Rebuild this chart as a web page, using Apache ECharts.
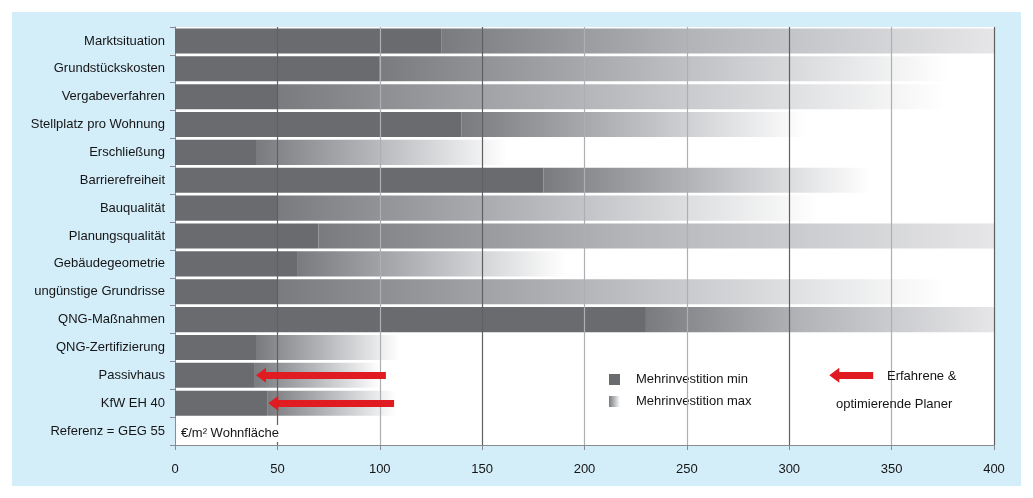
<!DOCTYPE html>
<html>
<head>
<meta charset="utf-8">
<script src="https://cdn.jsdelivr.net/npm/echarts@6/dist/echarts.min.js"></script>
<style>
  html, body { margin: 0; padding: 0; background: #ffffff; }
  #chart { position: absolute; left: 12px; top: 12px; width: 1009px; height: 474px; background: #d3edf9; }
</style>
</head>
<body>
<div id="chart"></div>
<script>
// Kategorien von oben nach unten
var categories = [
  'Marktsituation', 'Grundstückskosten', 'Vergabeverfahren', 'Stellplatz pro Wohnung',
  'Erschließung', 'Barrierefreiheit', 'Bauqualität', 'Planungsqualität',
  'Gebäudegeometrie', 'ungünstige Grundrisse', 'QNG-Maßnahmen', 'QNG-Zertifizierung',
  'Passivhaus', 'KfW EH 40', 'Referenz = GEG 55'
];
// Mehrinvestition min / max in €/m² Wohnfläche
var minValues = [130, 100, 50, 140, 40, 180, 50, 70, 60, 50, 230, 40, 39, 45, null];
var maxValues = [400, 378, 376, 308, 162, 340, 315, 400, 191, 376, 400, 110, 100, 108, null];
// Pfeile "Erfahrene & optimierende Planer": [Kategorie, von, bis]
var arrows = [
  ['Passivhaus', 103, 42],
  ['KfW EH 40', 107, 48]
];
var xTicks = [0, 50, 100, 150, 200, 250, 300, 350, 400];

var darkLines = [50, 150, 300, 400];
var font = 'Liberation Sans';
var ink = '#151515';

var chart = echarts.init(document.getElementById('chart'));

function grad(end) {
  return new echarts.graphic.LinearGradient(0, 0, 1, 0, [
    { offset: 0, color: '#7a7b7f' },
    { offset: 0.45, color: '#b2b4b8' },
    { offset: 1, color: end }
  ]);
}

var spanData = maxValues.map(function (mx, i) {
  if (mx == null) return '-';
  return {
    value: mx - minValues[i],
    itemStyle: { color: grad(mx >= 400 ? '#e6e6e8' : '#ffffff') }
  };
});

var gridLines = xTicks.slice(1).map(function (t) {
  return {
    xAxis: t,
    lineStyle: { color: darkLines.indexOf(t) >= 0 ? '#5f6064' : '#aeafb2', width: 1.2, type: 'solid' }
  };
});

var arrowLines = arrows.map(function (a) {
  return [{ coord: [a[1], a[0]] }, { coord: [a[2], a[0]] }];
});
// Legendenpfeil
arrowLines.push([{ coord: [341, 'Passivhaus'] }, { coord: [322, 'Passivhaus'] }]);

chart.setOption({
  animation: false,
  textStyle: { fontFamily: font },
  grid: {
    left: 163, right: 27, top: 15, bottom: 41,
    show: true, backgroundColor: '#ffffff', borderWidth: 0
  },
  legend: {
    orient: 'vertical',
    left: 592, top: 356,
    itemWidth: 11, itemHeight: 11, itemGap: 9,
    icon: 'rect',
    selectedMode: false,
    data: ['Mehrinvestition min', 'Mehrinvestition max'],
    textStyle: { fontFamily: font, fontSize: 13, color: ink, padding: [0, 0, 0, 11] }
  },
  xAxis: {
    type: 'value',
    min: 0, max: 400, interval: 50,
    splitLine: { show: false },
    axisLine: { show: true, lineStyle: { color: '#8a8b8e' } },
    axisTick: { show: true, length: 5, lineStyle: { color: '#8a8b8e' } },
    axisLabel: { color: ink, fontSize: 13, margin: 18, fontFamily: font }
  },
  yAxis: {
    type: 'category',
    inverse: true,
    data: categories,
    axisLine: { show: true, lineStyle: { color: '#8a8b8e' } },
    axisTick: { show: true, length: 5, lineStyle: { color: '#8a8b8e' } },
    axisLabel: { color: ink, fontSize: 13, margin: 10, fontFamily: font }
  },
  series: [
    {
      name: 'Mehrinvestition min',
      type: 'bar',
      stack: 'inv',
      barCategoryGap: '10%',
      itemStyle: { color: '#6a6b6f' },
      data: minValues.map(function (v) { return v == null ? '-' : v; }),
      markLine: {
        silent: true,
        symbol: 'none',
        label: { show: false },
        data: gridLines
      }
    },
    {
      name: 'Mehrinvestition max',
      type: 'bar',
      stack: 'inv',
      barCategoryGap: '10%',
      itemStyle: { color: grad('#ffffff') },
      data: spanData,
      markLine: {
        silent: true,
        z: 6,
        symbol: ['none', 'triangle'],
        symbolSize: [15, 10],
        label: { show: false },
        lineStyle: { color: '#e01b22', width: 7, type: 'solid' },
        data: arrowLines
      }
    }
  ],
  graphic: [
    { type: 'text', z: 100, left: 875, top: 358, style: { text: 'Erfahrene &', font: '13px "' + font + '"', fill: ink } },
    { type: 'text', z: 100, left: 824, top: 386, style: { text: 'optimierende Planer', font: '13px "' + font + '"', fill: ink } },
    { type: 'text', z: 100, left: 167, top: 413,
      style: { text: '€/m² Wohnfläche', font: '13px "' + font + '"', fill: ink, backgroundColor: '#ffffff', padding: [2, 2, 2, 2] } }
  ]
});
</script>
</body>
</html>
